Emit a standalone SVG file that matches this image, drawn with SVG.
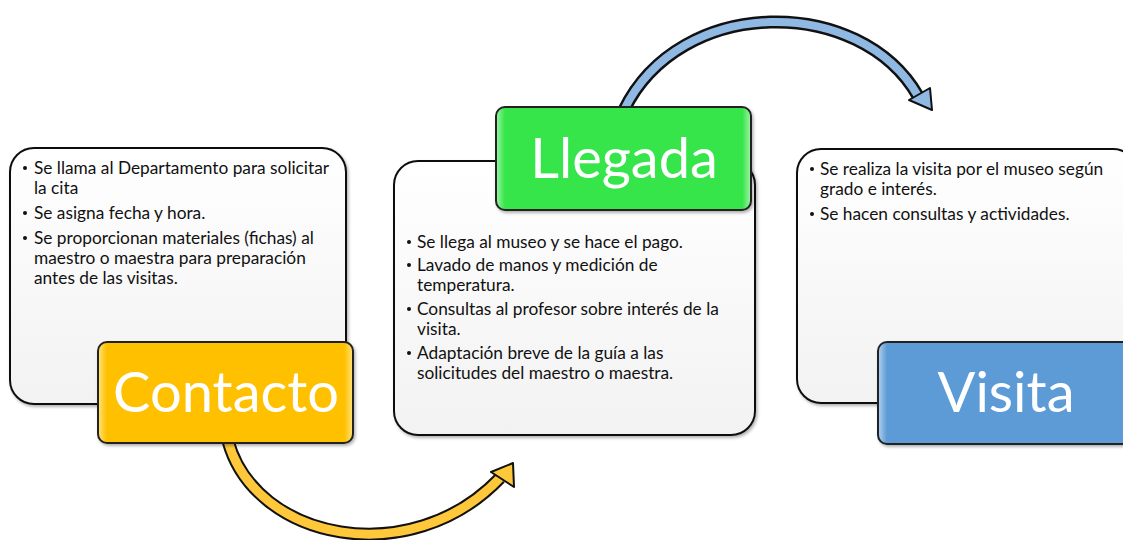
<svg xmlns="http://www.w3.org/2000/svg" width="1123" height="540" viewBox="0 0 1123 540">
<defs>
<linearGradient id="bodyG" x1="0" y1="0" x2="0" y2="1"><stop offset="0" stop-color="#ffffff"/><stop offset="1" stop-color="#f2f2f2"/></linearGradient>
<linearGradient id="yelG" x1="0" y1="0" x2="1" y2="0"><stop offset="0" stop-color="#ffe27a"/><stop offset="0.035" stop-color="#ffc000"/><stop offset="0.965" stop-color="#ffc000"/><stop offset="1" stop-color="#ffe27a"/></linearGradient>
<linearGradient id="grnG" x1="0" y1="0" x2="1" y2="0"><stop offset="0" stop-color="#9ff5a8"/><stop offset="0.035" stop-color="#35e54a"/><stop offset="0.965" stop-color="#35e54a"/><stop offset="1" stop-color="#9ff5a8"/></linearGradient>
<linearGradient id="bluG" x1="0" y1="0" x2="1" y2="0"><stop offset="0" stop-color="#b3d1ee"/><stop offset="0.035" stop-color="#5b9bd5"/><stop offset="0.965" stop-color="#5b9bd5"/><stop offset="1" stop-color="#b3d1ee"/></linearGradient>
<filter id="sh" x="-5%" y="-5%" width="112%" height="115%"><feDropShadow dx="1.5" dy="2" stdDeviation="1.5" flood-color="#000" flood-opacity="0.3"/></filter>
</defs>
<style>
.body{fill:url(#bodyG);stroke:#111;stroke-width:2;filter:url(#sh)}
.lab{stroke:#222;stroke-width:2;filter:url(#sh)}
.t{font-family:Lato,"Liberation Sans",sans-serif;font-size:17.3px;fill:#111}
.big{font-family:Lato,"Open Sans",sans-serif;font-size:56px;fill:#fff;text-anchor:middle}
.out{fill:none;stroke:#111;stroke-width:13}
.yel{fill:none;stroke:#ffc83a;stroke-width:9}
.blu{fill:none;stroke:#8fb9e3;stroke-width:8}
</style>
<g id="connectors">
<path class="out" d="M 228 441 C 255 540, 410 572, 500 478"/>
<path class="yel" d="M 228 441 C 255 540, 410 572, 500 478"/>
<polygon points="513,463 491,472 514,487" fill="#ffc83a" stroke="#111" stroke-width="2" stroke-linejoin="round"/>
<path class="out" d="M 624 110 C 680 -5, 860 -5, 918 96"/>
<path class="blu" d="M 624 110 C 680 -5, 860 -5, 918 96"/>
<polygon points="932,110 930,88 909,100" fill="#8fb9e3" stroke="#111" stroke-width="2" stroke-linejoin="round"/>
</g>
<g id="contacto">
<rect class="body" x="10" y="148" width="336" height="256" rx="24"/>
<g class="t">
<circle cx="25" cy="168" r="2"/><text x="34" y="174">Se llama al Departamento para solicitar</text>
<text x="34" y="194">la cita</text>
<circle cx="25" cy="213" r="2"/><text x="34" y="219">Se asigna fecha y hora.</text>
<circle cx="25" cy="238" r="2"/><text x="34" y="244">Se proporcionan materiales (fichas) al</text>
<text x="34" y="264">maestro o maestra para preparación</text>
<text x="34" y="284">antes de las visitas.</text>
</g>
<rect class="lab" x="98" y="342" width="255" height="101" rx="9" fill="url(#yelG)"/>
<text class="big" x="226" y="412">Contacto</text>
</g>
<g id="llegada">
<rect class="body" x="394" y="161" width="361" height="274" rx="24"/>
<g class="t">
<circle cx="409" cy="242" r="2"/><text x="417" y="248">Se llega al museo y se hace el pago.</text>
<circle cx="409" cy="265" r="2"/><text x="417" y="271">Lavado de manos y medición de</text>
<text x="417" y="291">temperatura.</text>
<circle cx="409" cy="309" r="2"/><text x="417" y="315">Consultas al profesor sobre interés de la</text>
<text x="417" y="335">visita.</text>
<circle cx="409" cy="353" r="2"/><text x="417" y="359">Adaptación breve de la guía a las</text>
<text x="417" y="379">solicitudes del maestro o maestra.</text>
</g>
<rect class="lab" x="496" y="107" width="255" height="103" rx="9" fill="url(#grnG)"/>
<text class="big" x="624" y="178">Llegada</text>
</g>
<g id="visita">
<rect class="body" x="797" y="149" width="340" height="254" rx="24"/>
<g class="t">
<circle cx="812" cy="169" r="2"/><text x="820" y="175">Se realiza la visita por el museo según</text>
<text x="820" y="195">grado e interés.</text>
<circle cx="812" cy="214" r="2"/><text x="820" y="220">Se hacen consultas y actividades.</text>
</g>
<rect class="lab" x="878" y="342" width="260" height="102" rx="9" fill="url(#bluG)"/>
<text class="big" x="1006" y="412">Visita</text>
</g>
</svg>
